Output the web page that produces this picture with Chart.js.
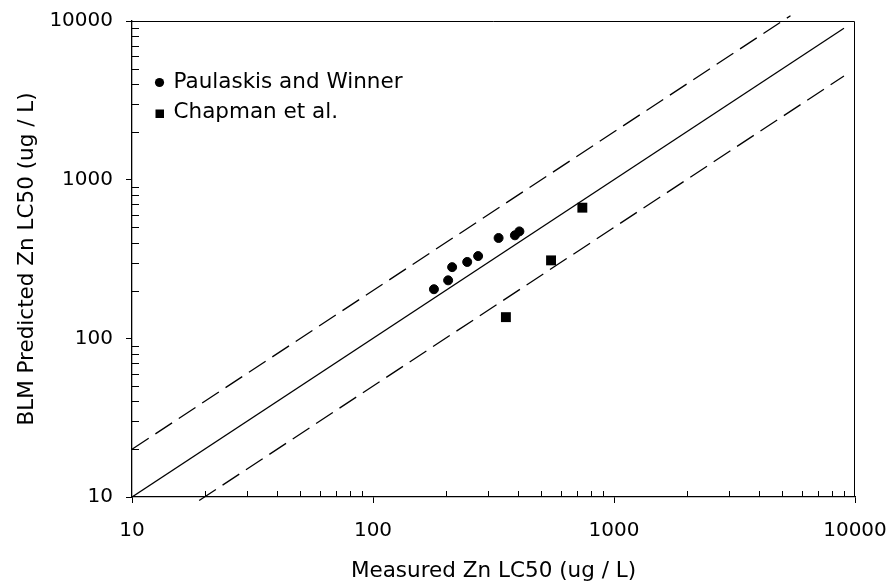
<!DOCTYPE html>
<html lang="en">
<head>
<meta charset="UTF-8" />
<title>Measured vs BLM Predicted Zn LC50</title>
<script src="https://cdn.jsdelivr.net/npm/chart.js"></script>
<style>
  html, body { margin: 0; padding: 0; background: #fff; }
  #wrap { width: 889px; height: 583px; }
</style>
</head>
<body>
<div id="wrap"><canvas id="lc50Chart" width="889" height="583"></canvas></div>
<script>
  // LC50 values, ug / L
  const paulaskisMeasured  = [179, 205, 213, 246, 273, 332, 388, 405];
  const paulaskisPredicted = [204, 232, 281, 303, 330, 429, 446, 472];
  const chapmanMeasured    = [356, 548, 739];
  const chapmanPredicted   = [136, 310, 666];

  const decadeTicks = [10, 100, 1000, 10000];

  // 1:1 line and the factor-of-two band
  const oneToOneX = [10, 9000];
  const oneToOneY = [10, 9000];
  const upperX = [10, 5400];
  const upperY = [20, 10800];
  const lowerX = [19, 9000];
  const lowerY = [9.5, 4500];

  const pts = (xs, ys) => xs.map((v, i) => ({ x: v, y: ys[i] }));
  const FONT = 'DejaVu Sans';

  const boxAndMinorTicks = {
    id: 'boxAndMinorTicks',
    afterDraw(chart) {
      const { ctx, chartArea: a, scales: { x, y } } = chart;
      ctx.save();
      ctx.strokeStyle = '#000';
      ctx.lineWidth = 1;
      ctx.beginPath();
      ctx.moveTo(a.left, a.top + 0.5);
      ctx.lineTo(a.right - 0.5, a.top + 0.5);
      ctx.lineTo(a.right - 0.5, a.bottom);
      // minor ticks point into the plot
      decadeTicks.slice(0, -1).forEach(d => {
        for (let k = 2; k < 10; k++) {
          const px = Math.round(x.getPixelForValue(d * k)) + 0.5;
          ctx.moveTo(px, a.bottom);
          ctx.lineTo(px, a.bottom - 6);
          const py = Math.round(y.getPixelForValue(d * k)) + 0.5;
          ctx.moveTo(a.left, py);
          ctx.lineTo(a.left + 7, py);
        }
      });
      ctx.stroke();

      // legend inside the plot, top left
      ctx.fillStyle = '#000';
      ctx.font = '21.5px "' + FONT + '"';
      ctx.textBaseline = 'middle';
      const lx = a.left + 27.5;
      const ds = chart.data.datasets;
      ctx.beginPath();
      ctx.arc(lx, a.top + 61.5, 4.6, 0, Math.PI * 2);
      ctx.fill();
      ctx.fillText(ds[0].label, lx + 14, a.top + 61);
      ctx.fillRect(lx - 4, a.top + 88.5, 8.5, 8.5);
      ctx.fillText(ds[1].label, lx + 14, a.top + 91);
      ctx.restore();
    }
  };

  const axisCommon = {
    type: 'logarithmic',
    min: 10,
    max: 10000,
    afterBuildTicks: s => { s.ticks = decadeTicks.map(v => ({ value: v })); },
    grid: { drawOnChartArea: false, drawTicks: true, tickLength: 6, color: '#000', lineWidth: 1 },
    border: { display: true, color: '#000', width: 1.3 },
  };

  new Chart(document.getElementById('lc50Chart'), {
    type: 'scatter',
    data: {
      datasets: [
        {
          label: 'Paulaskis and Winner',
          data: pts(paulaskisMeasured, paulaskisPredicted),
          pointStyle: 'circle',
          pointRadius: 4.5,
          borderWidth: 1,
          backgroundColor: '#000',
          borderColor: '#000',
          order: 0
        },
        {
          label: 'Chapman et al.',
          data: pts(chapmanMeasured, chapmanPredicted),
          pointStyle: 'rect',
          pointRadius: 7,
          borderWidth: 0,
          backgroundColor: '#000',
          borderColor: '#000',
          order: 1
        },
        {
          label: '1:1',
          data: pts(oneToOneX, oneToOneY),
          showLine: true,
          pointRadius: 0,
          borderColor: '#000',
          borderWidth: 1.3,
          order: 2
        },
        {
          label: 'x2',
          data: pts(upperX, upperY),
          showLine: true,
          pointRadius: 0,
          borderColor: '#000',
          borderWidth: 1.3,
          borderDash: [20, 8],
          clip: false,
          order: 3
        },
        {
          label: 'x0.5',
          data: pts(lowerX, lowerY),
          showLine: true,
          pointRadius: 0,
          borderColor: '#000',
          borderWidth: 1.3,
          borderDash: [20, 8],
          clip: false,
          order: 4
        }
      ]
    },
    options: {
      responsive: false,
      animation: false,
      layout: { padding: { top: 21, right: 34, left: 0, bottom: 0 } },
      plugins: {
        legend: { display: false },
        tooltip: { enabled: false }
      },
      scales: {
        x: {
          ...axisCommon,
          position: 'bottom',
          afterFit: s => { s.height = 86; s.paddingLeft = 0; s.paddingRight = 0; },
          ticks: {
            color: '#000', padding: 16, autoSkip: false, maxRotation: 0,
            font: { family: FONT, size: 20 },
            callback: v => String(v)
          },
          title: {
            display: true, text: 'Measured Zn LC50 (ug / L)', color: '#000',
            font: { family: FONT, size: 21.5, lineHeight: 1.1 },
            padding: { top: 0, bottom: 0 }
          }
        },
        y: {
          ...axisCommon,
          position: 'left',
          afterFit: s => { s.width = 132; s.paddingTop = 0; s.paddingBottom = 0; },
          ticks: {
            color: '#000', padding: 13, autoSkip: false,
            font: { family: FONT, size: 20 },
            callback: v => String(v)
          },
          title: {
            display: true, text: 'BLM Predicted Zn LC50 (ug / L)', color: '#000',
            font: { family: FONT, size: 21.5, lineHeight: 1.1 },
            padding: { top: 16, bottom: 0 }
          }
        }
      }
    },
    plugins: [boxAndMinorTicks]
  });
</script>
</body>
</html>
